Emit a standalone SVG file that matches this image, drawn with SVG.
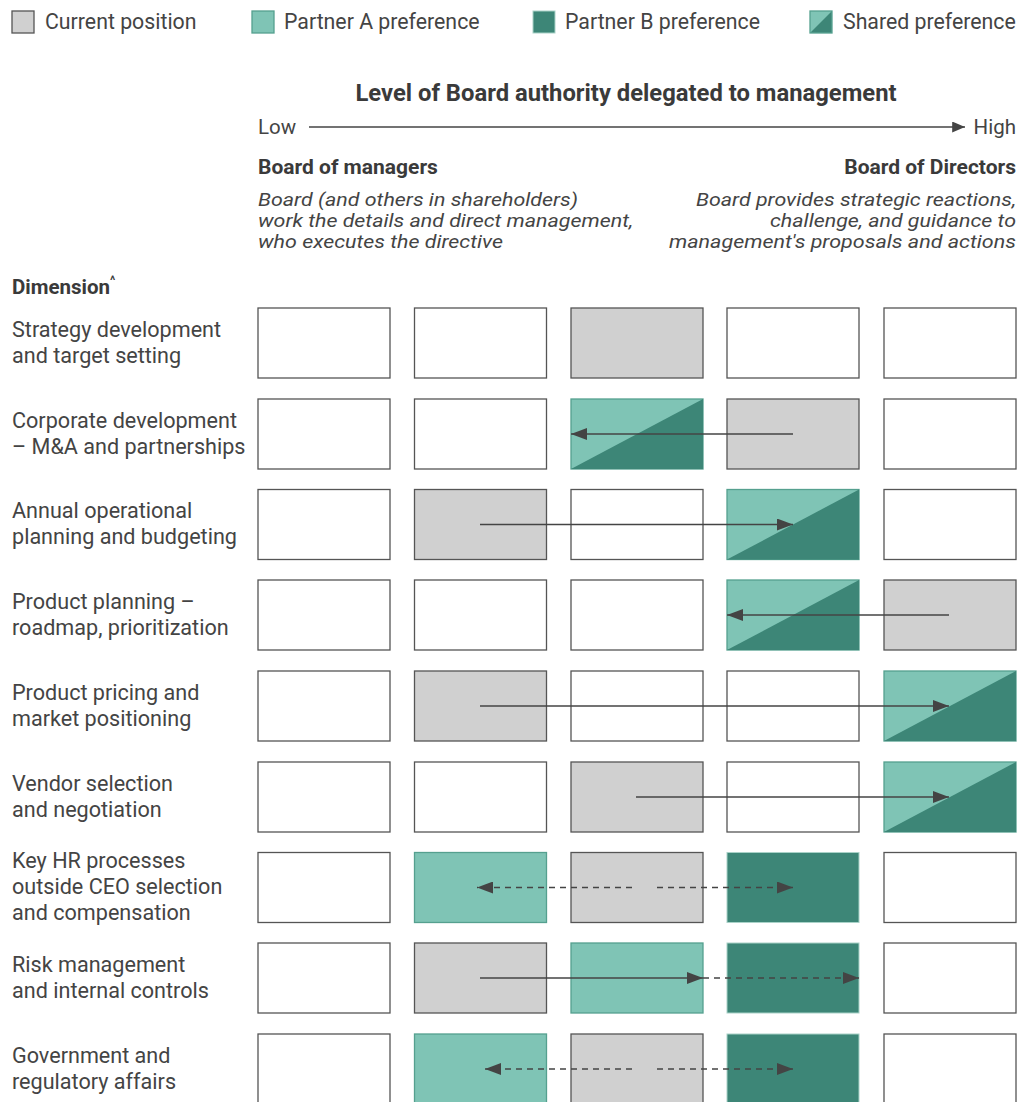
<svg xmlns="http://www.w3.org/2000/svg" width="1019" height="1102" viewBox="0 0 1019 1102">
  <defs>
    <style>
      text { font-family: Roboto, "Liberation Sans", sans-serif; fill: #444; }
      .leg { font-size: 21.3px; }
      .title { font-size: 23.8px; font-weight: bold; fill: #3a3a3a; }
      .axis { font-size: 20.5px; }
      .hd { font-size: 21px; font-weight: bold; fill: #3a3a3a; }
      .it { font-size: 19px; font-style: italic; }
      .dim { font-size: 20.5px; font-weight: bold; fill: #3a3a3a; }
      .sup { font-size: 12px; font-weight: bold; fill: #3a3a3a; }
      .lbl { font-size: 21.6px; }
      .empty { fill: #ffffff; stroke: #555; stroke-width: 1.3; }
      .cur { fill: #d0d0d0; stroke: #555; stroke-width: 1.3; }
      .pa { fill: #7fc4b5; stroke: #55a08f; stroke-width: 1.3; }
      .pb { fill: #3d8677; stroke: #a9d2c8; stroke-width: 1; }
      .pbtri { fill: #3d8677; }
      .solid { stroke: #444; stroke-width: 1.5; fill: none; }
      .dash { stroke: #444; stroke-width: 1.5; fill: none; stroke-dasharray: 6 5; }
    </style>
    <marker id="ah" viewBox="0 0 16 12" refX="16" refY="6" markerWidth="16" markerHeight="12" markerUnits="userSpaceOnUse" orient="auto">
      <path d="M0,0 L16,6 L0,12 Z" fill="#444"/>
    </marker>
    <marker id="ahs" viewBox="0 0 14 12" refX="14" refY="6" markerWidth="14" markerHeight="11" markerUnits="userSpaceOnUse" orient="auto">
      <path d="M0,0 L14,6 L0,12 Z" fill="#444"/>
    </marker>
  </defs>

  <!-- Legend -->
  <g id="legend">
    <rect x="12" y="11" width="22" height="22" class="cur"/>
    <text x="45" y="29" class="leg">Current position</text>
    <rect x="252" y="11" width="22" height="22" class="pa"/>
    <text x="284" y="29" class="leg">Partner A preference</text>
    <rect x="533" y="11" width="22" height="22" class="pb"/>
    <text x="565" y="29" class="leg">Partner B preference</text>
    <rect x="810" y="11" width="22" height="22" class="pa"/>
    <polygon points="810.5,32.5 831.5,11.5 831.5,32.5" class="pbtri"/>
    <text x="843" y="29" class="leg">Shared preference</text>
  </g>

  <!-- Axis header -->
  <g id="header">
    <text x="626" y="101" text-anchor="middle" class="title">Level of Board authority delegated to management</text>
    <text x="258" y="134" class="axis">Low</text>
    <line x1="309" y1="127" x2="965" y2="127" class="solid" marker-end="url(#ahs)"/>
    <text x="1016" y="134" text-anchor="end" class="axis">High</text>
    <text x="258" y="174" class="hd">Board of managers</text>
    <text x="1016" y="174" text-anchor="end" class="hd">Board of Directors</text>
    <text x="258" y="206" class="it" textLength="320" lengthAdjust="spacingAndGlyphs">Board (and others in shareholders)</text>
    <text x="258" y="227" class="it" textLength="375" lengthAdjust="spacingAndGlyphs">work the details and direct management,</text>
    <text x="258" y="248" class="it" textLength="245" lengthAdjust="spacingAndGlyphs">who executes the directive</text>
    <text x="696" y="206" class="it" textLength="320" lengthAdjust="spacingAndGlyphs">Board provides strategic reactions,</text>
    <text x="770" y="227" class="it" textLength="246" lengthAdjust="spacingAndGlyphs">challenge, and guidance to</text>
    <text x="669" y="248" class="it" textLength="347" lengthAdjust="spacingAndGlyphs">management's proposals and actions</text>
    <text x="12" y="294" class="dim">Dimension<tspan class="sup" dy="-9">^</tspan></text>
  </g>

  <!-- Row 1 -->
  <g id="row-strategy">
    <text x="12" y="337" class="lbl">Strategy development</text>
    <text x="12" y="363" class="lbl">and target setting</text>
    <rect x="258" y="308" width="132" height="70" class="empty"/>
    <rect x="414.5" y="308" width="132" height="70" class="empty"/>
    <rect x="571" y="308" width="132" height="70" class="cur"/>
    <rect x="727" y="308" width="132" height="70" class="empty"/>
    <rect x="884" y="308" width="132" height="70" class="empty"/>
  </g>

  <!-- Row 2 -->
  <g id="row-corpdev">
    <text x="12" y="428" class="lbl">Corporate development</text>
    <text x="12" y="454" class="lbl">– M&amp;A and partnerships</text>
    <rect x="258" y="399" width="132" height="70" class="empty"/>
    <rect x="414.5" y="399" width="132" height="70" class="empty"/>
    <rect x="571" y="399" width="132" height="70" class="pa"/>
    <polygon points="571,469 703,399 703,469" class="pbtri"/>
    <rect x="727" y="399" width="132" height="70" class="cur"/>
    <rect x="884" y="399" width="132" height="70" class="empty"/>
  </g>

  <!-- Row 3 -->
  <g id="row-annual">
    <text x="12" y="518" class="lbl">Annual operational</text>
    <text x="12" y="544" class="lbl">planning and budgeting</text>
    <rect x="258" y="489.5" width="132" height="70" class="empty"/>
    <rect x="414.5" y="489.5" width="132" height="70" class="cur"/>
    <rect x="571" y="489.5" width="132" height="70" class="empty"/>
    <rect x="727" y="489.5" width="132" height="70" class="pa"/>
    <polygon points="727,559.5 859,489.5 859,559.5" class="pbtri"/>
    <rect x="884" y="489.5" width="132" height="70" class="empty"/>
  </g>

  <!-- Row 4 -->
  <g id="row-product-planning">
    <text x="12" y="609" class="lbl">Product planning –</text>
    <text x="12" y="635" class="lbl">roadmap, prioritization</text>
    <rect x="258" y="580" width="132" height="70" class="empty"/>
    <rect x="414.5" y="580" width="132" height="70" class="empty"/>
    <rect x="571" y="580" width="132" height="70" class="empty"/>
    <rect x="727" y="580" width="132" height="70" class="pa"/>
    <polygon points="727,650 859,580 859,650" class="pbtri"/>
    <rect x="884" y="580" width="132" height="70" class="cur"/>
  </g>

  <!-- Row 5 -->
  <g id="row-pricing">
    <text x="12" y="700" class="lbl">Product pricing and</text>
    <text x="12" y="726" class="lbl">market positioning</text>
    <rect x="258" y="671" width="132" height="70" class="empty"/>
    <rect x="414.5" y="671" width="132" height="70" class="cur"/>
    <rect x="571" y="671" width="132" height="70" class="empty"/>
    <rect x="727" y="671" width="132" height="70" class="empty"/>
    <rect x="884" y="671" width="132" height="70" class="pa"/>
    <polygon points="884,741 1016,671 1016,741" class="pbtri"/>
  </g>

  <!-- Row 6 -->
  <g id="row-vendor">
    <text x="12" y="791" class="lbl">Vendor selection</text>
    <text x="12" y="817" class="lbl">and negotiation</text>
    <rect x="258" y="762" width="132" height="70" class="empty"/>
    <rect x="414.5" y="762" width="132" height="70" class="empty"/>
    <rect x="571" y="762" width="132" height="70" class="cur"/>
    <rect x="727" y="762" width="132" height="70" class="empty"/>
    <rect x="884" y="762" width="132" height="70" class="pa"/>
    <polygon points="884,832 1016,762 1016,832" class="pbtri"/>
  </g>

  <!-- Row 7 -->
  <g id="row-hr">
    <text x="12" y="868" class="lbl">Key HR processes</text>
    <text x="12" y="894" class="lbl">outside CEO selection</text>
    <text x="12" y="920" class="lbl">and compensation</text>
    <rect x="258" y="852.5" width="132" height="70" class="empty"/>
    <rect x="414.5" y="852.5" width="132" height="70" class="pa"/>
    <rect x="571" y="852.5" width="132" height="70" class="cur"/>
    <rect x="727" y="852.5" width="132" height="70" class="pb"/>
    <rect x="884" y="852.5" width="132" height="70" class="empty"/>
  </g>

  <!-- Row 8 -->
  <g id="row-risk">
    <text x="12" y="972" class="lbl">Risk management</text>
    <text x="12" y="998" class="lbl">and internal controls</text>
    <rect x="258" y="943" width="132" height="70" class="empty"/>
    <rect x="414.5" y="943" width="132" height="70" class="cur"/>
    <rect x="571" y="943" width="132" height="70" class="pa"/>
    <rect x="727" y="943" width="132" height="70" class="pb"/>
    <rect x="884" y="943" width="132" height="70" class="empty"/>
  </g>

  <!-- Row 9 -->
  <g id="row-gov">
    <text x="12" y="1063" class="lbl">Government and</text>
    <text x="12" y="1089" class="lbl">regulatory affairs</text>
    <rect x="258" y="1034" width="132" height="70" class="empty"/>
    <rect x="414.5" y="1034" width="132" height="70" class="pa"/>
    <rect x="571" y="1034" width="132" height="70" class="cur"/>
    <rect x="727" y="1034" width="132" height="70" class="pb"/>
    <rect x="884" y="1034" width="132" height="70" class="empty"/>
  </g>

  <!-- Connectors: solid = shared move, dashed = partner-specific move -->
  <g id="connectors">
    <line x1="793" y1="434" x2="571" y2="434" class="solid" marker-end="url(#ah)"/>
    <line x1="480" y1="524.5" x2="793" y2="524.5" class="solid" marker-end="url(#ah)"/>
    <line x1="949" y1="615" x2="727" y2="615" class="solid" marker-end="url(#ah)"/>
    <line x1="480" y1="706" x2="949" y2="706" class="solid" marker-end="url(#ah)"/>
    <line x1="636" y1="797" x2="949" y2="797" class="solid" marker-end="url(#ah)"/>
    <line x1="632" y1="887.5" x2="477" y2="887.5" class="dash" marker-end="url(#ah)"/>
    <line x1="657" y1="887.5" x2="793" y2="887.5" class="dash" marker-end="url(#ah)"/>
    <line x1="480" y1="978" x2="703" y2="978" class="solid" marker-end="url(#ah)"/>
    <line x1="703" y1="978" x2="859" y2="978" class="dash" marker-end="url(#ah)"/>
    <line x1="632" y1="1069" x2="485" y2="1069" class="dash" marker-end="url(#ah)"/>
    <line x1="657" y1="1069" x2="793" y2="1069" class="dash" marker-end="url(#ah)"/>
  </g>
</svg>
